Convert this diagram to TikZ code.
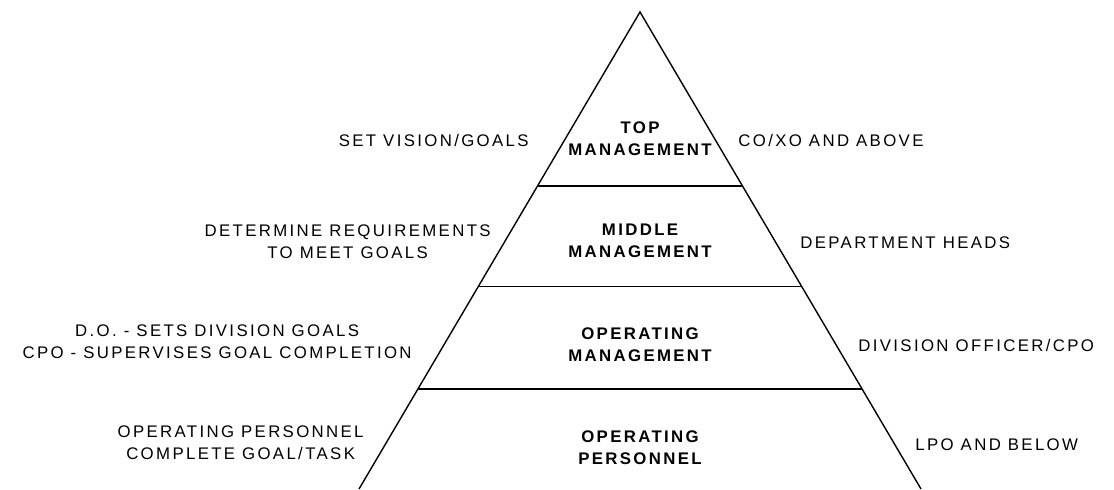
\documentclass[tikz,border=0pt]{standalone}
\usepackage{fontspec}
\setmainfont{Liberation Sans}[LetterSpace=14]
\usetikzlibrary{calc}

\tikzset{
  lbl/.style={font=\fontsize{8.4}{11}\selectfont,align=center,inner sep=0pt},
  tier/.style={lbl,font=\fontsize{8.4}{11}\selectfont\bfseries},
  edge/.style={draw=black,line width=0.7pt}
}

\begin{document}
\begin{tikzpicture}[x=0.5pt,y=-0.5pt]
  \useasboundingbox (0,0) rectangle (1114,489);
  % pyramid outline
  \coordinate (apex) at (640,12);
  \coordinate (bl) at (359,489);
  \coordinate (br) at (921,489);
  \draw[edge] (bl) -- (apex) -- (br);
  % tier lines
  \foreach \t/\n in {0.365/a,0.575/b,0.79/c}{
    \coordinate (l\n) at ($(apex)!\t!(bl)$);
    \coordinate (r\n) at ($(apex)!\t!(br)$);
    \draw[edge] (l\n) -- (r\n);
  }
  % tiers
  \node[tier] (top) at (640,139) {TOP\\MANAGEMENT};
  \node[tier] (mid) at (640,241) {MIDDLE\\MANAGEMENT};
  \node[tier] (opm) at (640,345) {OPERATING\\MANAGEMENT};
  \node[tier] (opp) at (640,448) {OPERATING\\PERSONNEL};
  % tasks
  \node[lbl,anchor=east] (vision) at (529,140) {SET VISION/GOALS};
  \node[lbl,anchor=east] (req) at (491,242) {DETERMINE REQUIREMENTS\\TO MEET GOALS};
  \node[lbl,anchor=east] (divgoal) at (412,342) {D.O. - SETS DIVISION GOALS\\CPO - SUPERVISES GOAL COMPLETION};
  \node[lbl,anchor=east] (task) at (364,443) {OPERATING PERSONNEL\\COMPLETE GOAL/TASK};
  % who
  \node[lbl,anchor=west] (coxo) at (738,140) {CO/XO AND ABOVE};
  \node[lbl,anchor=west] (heads) at (800,243) {DEPARTMENT HEADS};
  \node[lbl,anchor=west] (divo) at (858,345) {DIVISION OFFICER/CPO};
  \node[lbl,anchor=west] (lpo) at (915,445) {LPO AND BELOW};
\end{tikzpicture}
\end{document}
